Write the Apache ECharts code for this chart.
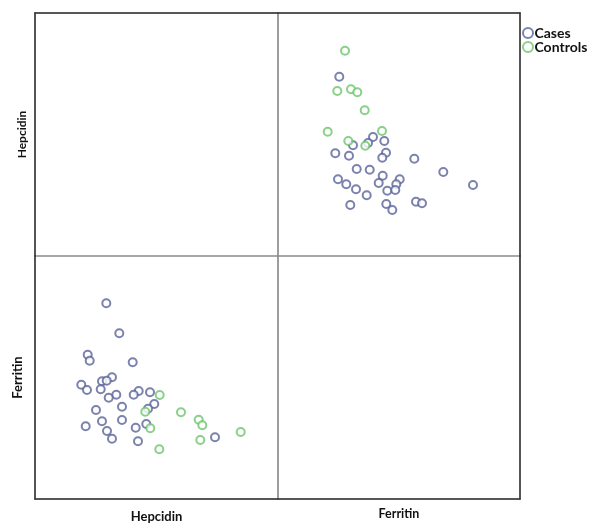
<!DOCTYPE html>
<html>
<head>
<meta charset="utf-8">
<script src="https://cdn.jsdelivr.net/npm/echarts@6/dist/echarts.min.js"></script>
<style>html,body{margin:0;padding:0;background:#fff}#c{width:594px;height:524px}</style>
</head>
<body>
<div id="c"></div>
<script>
// Top-right panel: x = Ferritin, y = Hepcidin
const trCases = [[61.3,179.3],[95,119],[106.3,115],[75,110.7],[90,113],[57.3,102.7],[71,100.3],[108,103.3],[104.3,98.3],[136.3,97.3],[78.7,87],[91.7,86.3],[165.3,84],[104.7,80.3],[60,76.7],[121.7,76.7],[68.3,71.7],[100.7,73],[118.3,71.7],[195,71],[78,66.7],[109.3,65.3],[117.3,66],[88.7,60.7],[138,54.3],[144,52.7],[72.3,51],[108.3,52],[114.3,46]];
const trControls = [[67,205.3],[59.3,165],[73,166.7],[79.3,163.7],[86.7,145.7],[49.7,124.3],[104,125],[70.3,115],[87.3,110.3]];
// Bottom-left panel: x = Hepcidin, y = Ferritin
const blCases = [[71.3,195.7],[84.3,165.7],[52.7,144.3],[54.7,138.3],[97.7,136.7],[77,121.7],[67,117.7],[71.7,118.3],[46.3,114.3],[52,109],[65.7,109.7],[103.7,108],[115,106.7],[81.3,104.3],[98.7,104.3],[73.7,101.3],[119.3,95],[87,92.3],[61,89],[113,90.3],[67,77.7],[87,79],[50.7,72.7],[111.3,75],[100.7,71.3],[72,68],[77,60.3],[103,57.7],[180,61.7]];
const blControls = [[124.7,104],[110.3,87.3],[146,86.7],[163.7,79.3],[167.3,73.7],[115.3,70.7],[205.7,67],[165.3,59],[124.3,49.7]];
const groupNames = ['Cases','Controls'];
const varNames = ['Hepcidin','Ferritin'];

const blue = '#5a6399', green = '#6cc46c';
const dark = '#333', mid = '#8c8c8c';
const font = 'Lato, "Open Sans", sans-serif';
const nameStyle = {fontFamily: font, fontWeight: 'bold', fontSize: 12.5, color: '#111'};

function ax(gi, pos, lineColor, extra) {
  return Object.assign({
    gridIndex: gi, type: 'value', position: pos, min: 0,
    axisLine: {show: true, onZero: false, lineStyle: {color: lineColor, width: 1.5}},
    axisTick: {show: false}, axisLabel: {show: false}, splitLine: {show: false}
  }, extra || {});
}
const grids = [
  {left: 35, top: 13, width: 243, height: 243},
  {left: 278, top: 13, width: 242, height: 243},
  {left: 35, top: 256, width: 243, height: 243},
  {left: 278, top: 256, width: 242, height: 243}
].map(g => Object.assign(g, {show: true, borderColor: mid, borderWidth: 1.2, containLabel: false}));

const xAxes = [
  ax(0, 'top', dark, {max: 243}),
  ax(1, 'top', dark, {max: 242}),
  ax(2, 'bottom', dark, {max: 243, name: varNames[0], nameLocation: 'middle', nameGap: 11, nameTextStyle: Object.assign({}, nameStyle, {fontSize: 13})}),
  ax(3, 'bottom', dark, {max: 242, name: varNames[1], nameLocation: 'middle', nameGap: 8, nameTextStyle: nameStyle})
];
const yAxes = [
  ax(0, 'left', dark, {max: 243, name: varNames[0], nameLocation: 'middle', nameGap: 7, nameTextStyle: Object.assign({}, nameStyle, {fontSize: 12})}),
  ax(1, 'right', dark, {max: 243}),
  ax(2, 'left', dark, {max: 243, name: varNames[1], nameLocation: 'middle', nameGap: 11, nameTextStyle: Object.assign({}, nameStyle, {fontSize: 13})}),
  ax(3, 'right', dark, {max: 243})
];

function sc(name, data, gi, color) {
  return {
    name: name, type: 'scatter', xAxisIndex: gi, yAxisIndex: gi, data: data,
    symbol: 'emptyCircle', symbolSize: 8, clip: false,
    itemStyle: {color: color, borderColor: color, borderWidth: 1.3},
    emphasis: {disabled: true}
  };
}

const chart = echarts.init(document.getElementById('c'), null, {renderer: 'canvas'});
chart.setOption({
  animation: false,
  color: [blue, green],
  legend: {
    left: 522, top: 26, padding: 0, orient: 'vertical', itemGap: 0, itemWidth: 11, itemHeight: 10,
    icon: 'emptyCircle', data: groupNames,
    itemStyle: {borderWidth: 1.1},
    textStyle: {fontFamily: font, fontWeight: 'bold', fontSize: 14, lineHeight: 14, color: '#111', padding: [0, 0, 0, -4]}
  },
  grid: grids,
  xAxis: xAxes,
  yAxis: yAxes,
  series: [
    sc(groupNames[0], trCases, 1, blue),
    sc(groupNames[1], trControls, 1, green),
    sc(groupNames[0], blCases, 2, blue),
    sc(groupNames[1], blControls, 2, green)
  ]
});
</script>
</body>
</html>
